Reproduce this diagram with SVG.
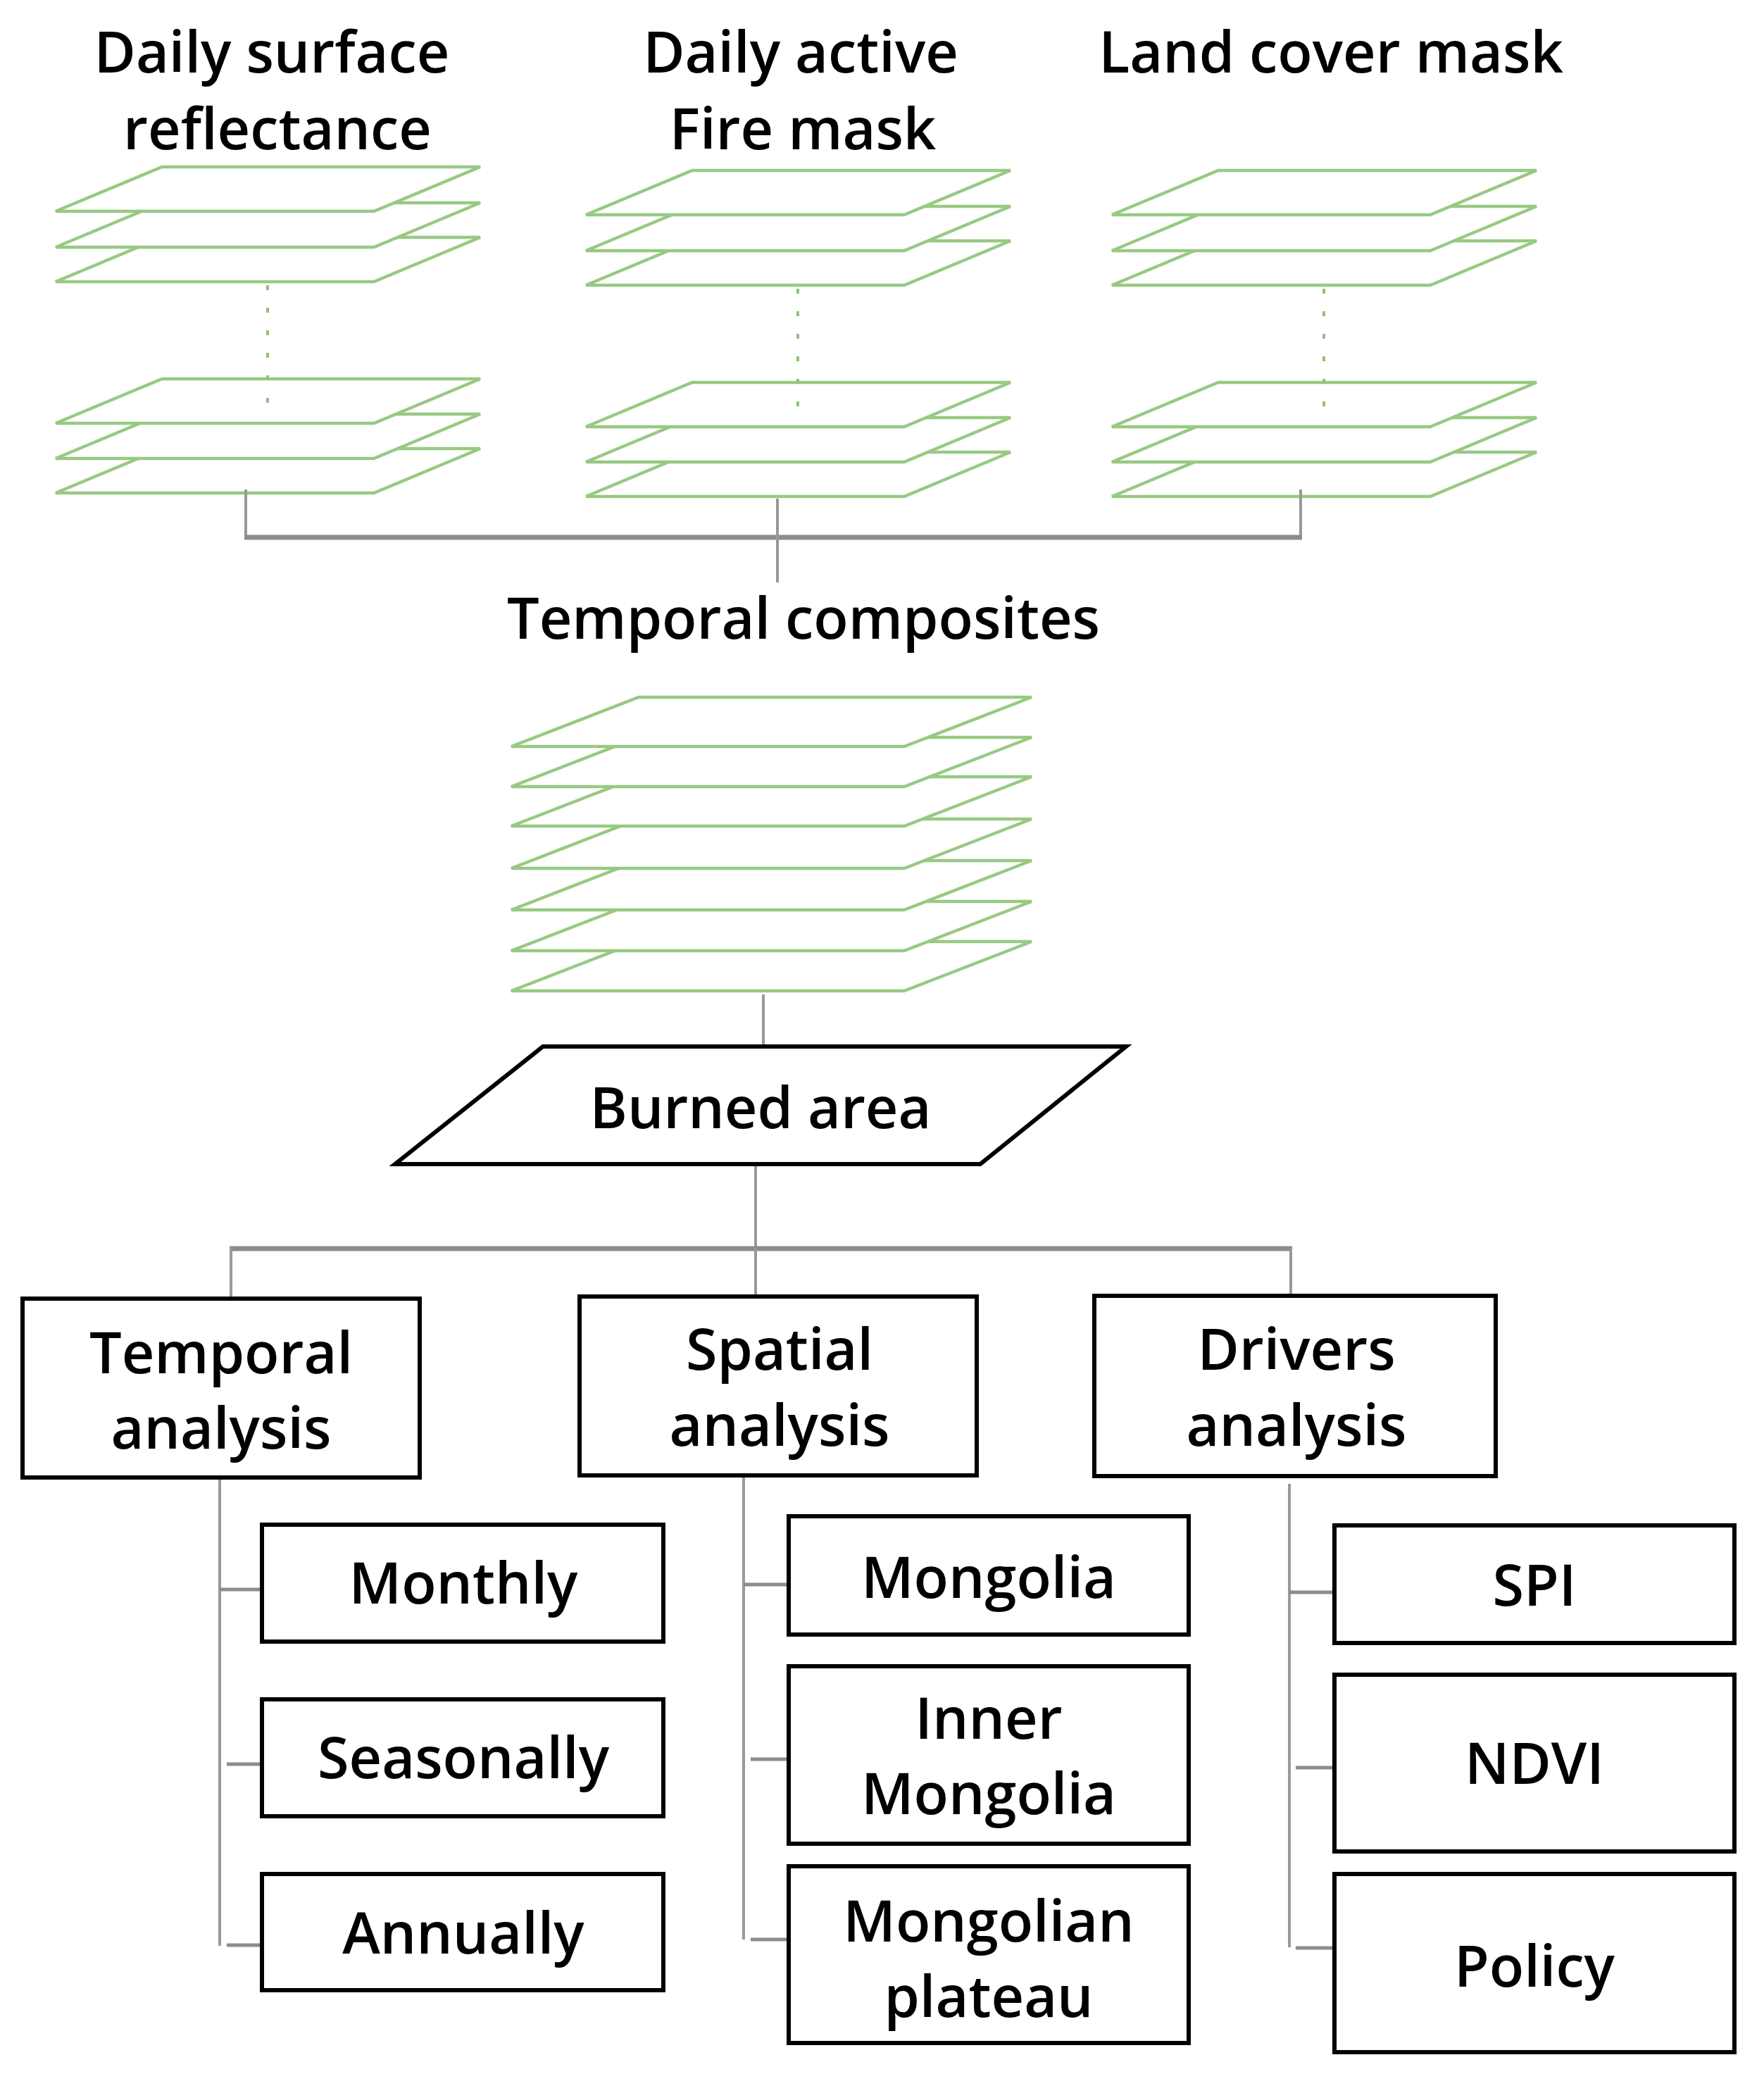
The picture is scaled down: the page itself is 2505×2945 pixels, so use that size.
<svg xmlns="http://www.w3.org/2000/svg" xmlns:xlink="http://www.w3.org/1999/xlink" width="2505" height="2945" viewBox="0 0 2505 2945">
<style>
.t{font-family:"Open Sans","Noto Sans","Liberation Sans",sans-serif;font-size:81px;font-weight:600;fill:#000;text-anchor:middle}
.pl{fill:#fff;stroke:#98c983;stroke-width:4.5;stroke-linejoin:miter}
.dots{stroke:#8fc27a;stroke-width:4;stroke-dasharray:7 25;fill:none}
.box{fill:#fff;stroke:#000;stroke-width:6}
.c{stroke:#999;stroke-width:4;fill:none}
.ch{stroke:#8c8c8c;stroke-width:7;fill:none}
.cb{stroke:#8c8c8c;stroke-width:5;fill:none}
</style>
<defs>
<polygon id="p" points="151,0 603,0 452,63 0,63"/>
<polygon id="pm" points="181,0 739,0 558,70 0,70"/>
</defs>
<rect width="2505" height="2945" fill="#fff"/>

<g id="titles">
<text class="t" x="386" y="103">Daily surface</text>
<text class="t" x="394" y="212">reflectance</text>
<text class="t" x="1137" y="103">Daily active</text>
<text class="t" x="1140" y="212">Fire mask</text>
<text class="t" x="1890" y="103">Land cover mask</text>
</g>

<g id="stack-reflectance">
<use href="#p" class="pl" x="79" y="637"/>
<use href="#p" class="pl" x="79" y="588"/>
<use href="#p" class="pl" x="79" y="538"/>
<use href="#p" class="pl" x="79" y="337"/>
<use href="#p" class="pl" x="79" y="288"/>
<use href="#p" class="pl" x="79" y="237"/>
<line class="dots" x1="380" y1="405" x2="380" y2="572"/>
</g>
<g id="stack-fire">
<use href="#p" class="pl" x="832" y="642"/>
<use href="#p" class="pl" x="832" y="593"/>
<use href="#p" class="pl" x="832" y="543"/>
<use href="#p" class="pl" x="832" y="342"/>
<use href="#p" class="pl" x="832" y="293"/>
<use href="#p" class="pl" x="832" y="242"/>
<line class="dots" x1="1133" y1="410" x2="1133" y2="577"/>
</g>
<g id="stack-landcover">
<use href="#p" class="pl" x="1579" y="642"/>
<use href="#p" class="pl" x="1579" y="593"/>
<use href="#p" class="pl" x="1579" y="543"/>
<use href="#p" class="pl" x="1579" y="342"/>
<use href="#p" class="pl" x="1579" y="293"/>
<use href="#p" class="pl" x="1579" y="242"/>
<line class="dots" x1="1880" y1="410" x2="1880" y2="577"/>
</g>

<g id="temporal-composites">
<text class="t" x="1141" y="907">Temporal composites</text>
<use href="#pm" class="pl" x="726" y="1337"/>
<use href="#pm" class="pl" x="726" y="1280"/>
<use href="#pm" class="pl" x="726" y="1222"/>
<use href="#pm" class="pl" x="726" y="1163"/>
<use href="#pm" class="pl" x="726" y="1103"/>
<use href="#pm" class="pl" x="726" y="1047"/>
<use href="#pm" class="pl" x="726" y="990"/>
</g>

<g id="connectors">
<line class="c" x1="349" y1="695" x2="349" y2="763"/>
<line class="c" x1="1847" y1="695" x2="1847" y2="763"/>
<line class="ch" x1="347" y1="763" x2="1849" y2="763"/>
<line class="c" x1="1104" y1="708" x2="1104" y2="827"/>
<line class="c" x1="1084" y1="1412" x2="1084" y2="1486"/>
<line class="c" x1="1073" y1="1653" x2="1073" y2="1773"/>
<line class="ch" x1="326" y1="1773" x2="1835" y2="1773"/>
<line class="c" x1="328" y1="1773" x2="328" y2="1844"/>
<line class="c" x1="1073" y1="1773" x2="1073" y2="1841"/>
<line class="c" x1="1833" y1="1773" x2="1833" y2="1840"/>
<line class="c" x1="312" y1="2098" x2="312" y2="2763"/>
<line class="cb" x1="312" y1="2257" x2="372" y2="2257"/>
<line class="cb" x1="322" y1="2505" x2="372" y2="2505"/>
<line class="cb" x1="322" y1="2762" x2="372" y2="2762"/>
<line class="c" x1="1056" y1="2095" x2="1056" y2="2754"/>
<line class="cb" x1="1056" y1="2250" x2="1120" y2="2250"/>
<line class="cb" x1="1066" y1="2498" x2="1120" y2="2498"/>
<line class="cb" x1="1066" y1="2754" x2="1120" y2="2754"/>
<line class="c" x1="1831" y1="2107" x2="1831" y2="2765"/>
<line class="cb" x1="1831" y1="2261" x2="1895" y2="2261"/>
<line class="cb" x1="1840" y1="2510" x2="1895" y2="2510"/>
<line class="cb" x1="1840" y1="2766" x2="1895" y2="2766"/>
</g>

<g id="burned-area">
<polygon points="771,1486 1599,1486 1392,1653 561,1653" fill="#fff" stroke="#000" stroke-width="6"/>
<text class="t" x="1080" y="1602">Burned area</text>
</g>

<g id="temporal-analysis">
<rect class="box" x="32" y="1844" width="564" height="254"/>
<text class="t" x="314" y="1950">Temporal</text>
<text class="t" x="314" y="2057">analysis</text>
</g>
<g id="spatial-analysis">
<rect class="box" x="823" y="1841" width="564" height="254"/>
<text class="t" x="1107" y="1945">Spatial</text>
<text class="t" x="1107" y="2053">analysis</text>
</g>
<g id="drivers-analysis">
<rect class="box" x="1554" y="1840" width="570" height="256"/>
<text class="t" x="1841" y="1945">Drivers</text>
<text class="t" x="1841" y="2053">analysis</text>
</g>

<g id="monthly">
<rect class="box" x="372" y="2165" width="570" height="166"/>
<text class="t" x="658" y="2277">Monthly</text>
</g>
<g id="seasonally">
<rect class="box" x="372" y="2413" width="570" height="166"/>
<text class="t" x="658" y="2525">Seasonally</text>
</g>
<g id="annually">
<rect class="box" x="372" y="2661" width="570" height="165"/>
<text class="t" x="658" y="2774">Annually</text>
</g>

<g id="mongolia">
<rect class="box" x="1120" y="2153" width="568" height="168"/>
<text class="t" x="1404" y="2269">Mongolia</text>
</g>
<g id="inner-mongolia">
<rect class="box" x="1120" y="2366" width="568" height="252"/>
<text class="t" x="1404" y="2469">Inner</text>
<text class="t" x="1404" y="2576">Mongolia</text>
</g>
<g id="mongolian-plateau">
<rect class="box" x="1120" y="2650" width="568" height="251"/>
<text class="t" x="1404" y="2757">Mongolian</text>
<text class="t" x="1404" y="2864">plateau</text>
</g>

<g id="spi">
<rect class="box" x="1895" y="2166" width="568" height="167"/>
<text class="t" x="2179" y="2280">SPI</text>
</g>
<g id="ndvi">
<rect class="box" x="1895" y="2378" width="568" height="251"/>
<text class="t" x="2179" y="2533">NDVI</text>
</g>
<g id="policy">
<rect class="box" x="1895" y="2661" width="568" height="253"/>
<text class="t" x="2179" y="2821">Policy</text>
</g>
</svg>
